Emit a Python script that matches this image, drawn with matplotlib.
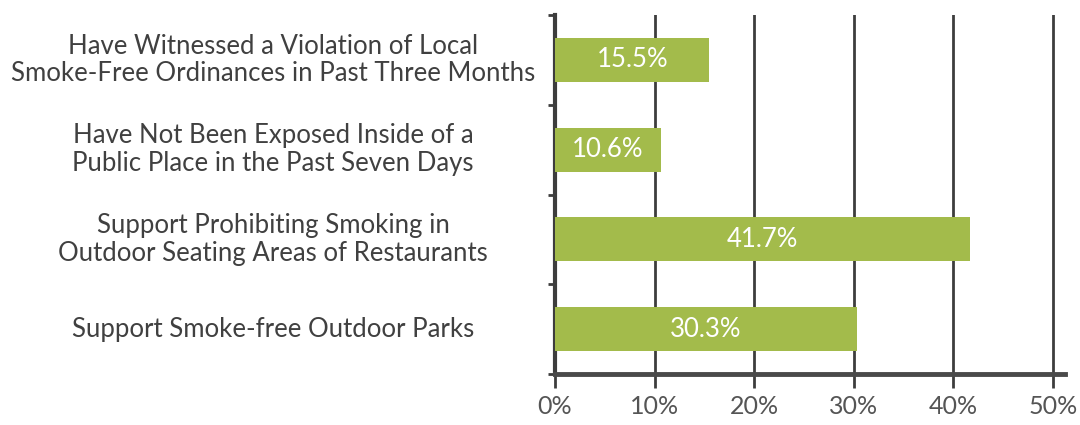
import numpy as np
import matplotlib.pyplot as plt
import matplotlib.transforms as mtransforms

# Data
categories = [
    "Have Witnessed a Violation of Local\nSmoke-Free Ordinances in Past Three Months",
    "Have Not Been Exposed Inside of a\nPublic Place in the Past Seven Days",
    "Support Prohibiting Smoking in\nOutdoor Seating Areas of Restaurants",
    "Support Smoke-free Outdoor Parks",
]
values = [15.5, 10.6, 41.7, 30.3]
bar_labels = ["15.5%", "10.6%", "41.7%", "30.3%"]
xticks = [0, 10, 20, 30, 40, 50]
xtick_labels = ["0%", "10%", "20%", "30%", "40%", "50%"]

plt.rcParams['font.family'] = ['Lato', 'DejaVu Sans']

green = '#a3bb4b'
dark = '#3d3d3d'

fig = plt.figure(figsize=(10.8, 4.25), dpi=100)
ax = fig.add_axes([555 / 1080, 51 / 425, 510 / 1080, 359 / 425])

y = np.arange(len(categories))
ax.barh(y, values, height=0.49, color=green, zorder=3)

for yi, v, lab in zip(y, values, bar_labels):
    ax.text(v / 2, yi, lab, ha='center', va='center', color='white',
            fontsize=18.5, zorder=4)

trans = mtransforms.blended_transform_factory(ax.transAxes, ax.transData)
for yi, cat in zip(y, categories):
    ax.text(-0.553, yi, cat, transform=trans, ha='center', va='center',
            multialignment='center', fontsize=18.5, color='#404040',
            linespacing=1.12)

ax.set_xlim(0, 51.2)
ax.set_ylim(len(categories) - 0.5, -0.5)

ax.set_xticks(xticks)
ax.set_xticklabels(xtick_labels, fontsize=18, color='#555555')
ax.tick_params(axis='x', length=10, width=2, color=dark, pad=5)

ax.set_yticks([])
ax.set_yticks(np.arange(-0.5, len(categories)), minor=True)
ax.tick_params(axis='y', which='minor', length=5, width=2, color=dark)

ax.grid(axis='x', color=dark, linewidth=2, zorder=1)
ax.set_axisbelow(True)

for side in ['top', 'right']:
    ax.spines[side].set_visible(False)
ax.spines['left'].set_color(dark)
ax.spines['left'].set_linewidth(3)
ax.spines['bottom'].set_color('#4a4a4a')
ax.spines['bottom'].set_linewidth(3.5)

fig.savefig('out.png', dpi=100)
